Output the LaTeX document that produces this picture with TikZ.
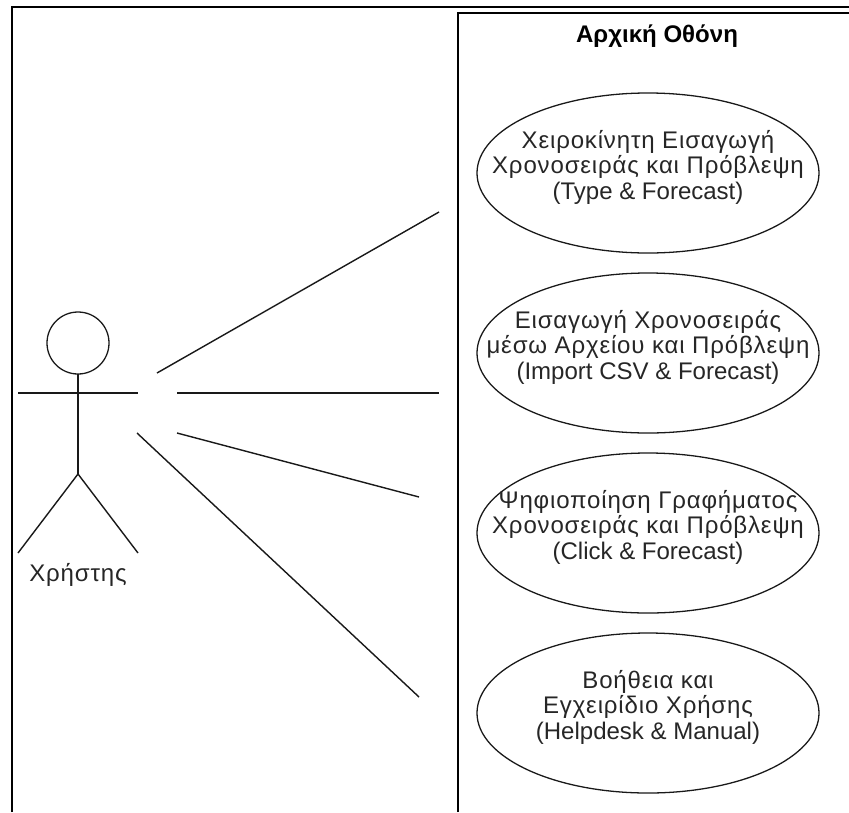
\documentclass[tikz,border=0pt]{standalone}
\usepackage{fontspec}
\setmainfont{Liberation Sans}
\newfontfamily\wideface[LetterSpace=3.5]{Liberation Sans}
\usepackage{xcolor}
\usetikzlibrary{shapes, positioning}
\tikzset{
    umlline/.style={draw=black!90, line width=1.2pt},
    framerule/.style={draw=black, line width=2pt},
    usecase/.style={draw=black!90, line width=1.1pt, ellipse, minimum width=10.26cm, minimum height=4.8cm, inner sep=0pt, outer sep=0pt},
    casetext/.style={align=center, yshift=0.17cm, text=black!85, font=\fontsize{20.5}{22.1}\selectfont}
}

\begin{document}
\begin{tikzpicture}
            \useasboundingbox (0,0) rectangle (25.47,-24.36);

            \coordinate (outer_tl) at (0.36,-0.21);
            \coordinate (outer_tr) at (25.47,-0.21);
            \coordinate (outer_bl) at (0.36,-24.36);
            \coordinate (screen_tl) at (13.74,-0.39);
            \coordinate (screen_tr) at (25.47,-0.39);
            \coordinate (screen_bl) at (13.74,-24.36);
            \draw[framerule] (outer_bl) -- (outer_tl) -- (outer_tr);
            \draw[framerule] (screen_bl) -- (screen_tl) -- (screen_tr);

            \node (screen_title) at (19.71,-1.08) [font=\bfseries\fontsize{20.5}{22.1}\selectfont] {Αρχική Οθόνη};

            \node (type_case) at (19.44,-5.19) [usecase] {};
            \node (import_case) [usecase, below=0.6cm of type_case] {};
            \node (click_case) [usecase, below=0.6cm of import_case] {};
            \node (help_case) [usecase, below=0.6cm of click_case] {};

            \node (type_text) at (type_case) [casetext] {{\wideface Χειροκίνητη Εισαγωγή}\\ {\wideface Χρονοσειράς και Πρόβλεψη}\\ (Type \& Forecast)};
            \node (import_text) at (import_case) [casetext] {{\wideface Εισαγωγή Χρονοσειράς}\\ {\wideface μέσω Αρχείου και Πρόβλεψη}\\ (Import CSV \& Forecast)};
            \node (click_text) at (click_case) [casetext] {{\wideface Ψηφιοποίηση Γραφήματος}\\ {\wideface Χρονοσειράς και Πρόβλεψη}\\ (Click \& Forecast)};
            \node (help_text) at (help_case) [casetext] {{\wideface Βοήθεια και}\\ {\wideface Εγχειρίδιο Χρήσης}\\ (Helpdesk \& Manual)};

            \node (head) at (2.34,-10.29) [draw=black!90, line width=1.1pt, circle, minimum size=1.86cm, inner sep=0pt, outer sep=0pt] {};
            \coordinate (hip) at (2.34,-14.22);
            \coordinate (left_hand) at (0.54,-11.79);
            \coordinate (right_hand) at (4.14,-11.79);
            \coordinate (left_foot) at (0.54,-16.59);
            \coordinate (right_foot) at (4.14,-16.59);
            \draw[umlline] (head.south) -- (hip);
            \draw[umlline] (left_hand) -- (right_hand);
            \draw[umlline] (left_foot) -- (hip) -- (right_foot);
            \node (actor_label) at (2.34,-17.25) [casetext, yshift=-0.17cm] {{\wideface Χρήστης}};

            \coordinate (type_start) at (4.71,-11.19);
            \coordinate (type_end) at (13.17,-6.36);
            \coordinate (import_start) at (5.31,-11.79);
            \coordinate (import_end) at (13.17,-11.79);
            \coordinate (click_start) at (5.31,-12.99);
            \coordinate (click_end) at (12.57,-14.91);
            \coordinate (help_start) at (4.11,-12.99);
            \coordinate (help_end) at (12.57,-20.91);
            \draw[umlline] (type_start) -- (type_end);
            \draw[umlline] (import_start) -- (import_end);
            \draw[umlline] (click_start) -- (click_end);
            \draw[umlline] (help_start) -- (help_end);
\end{tikzpicture}
\end{document}
